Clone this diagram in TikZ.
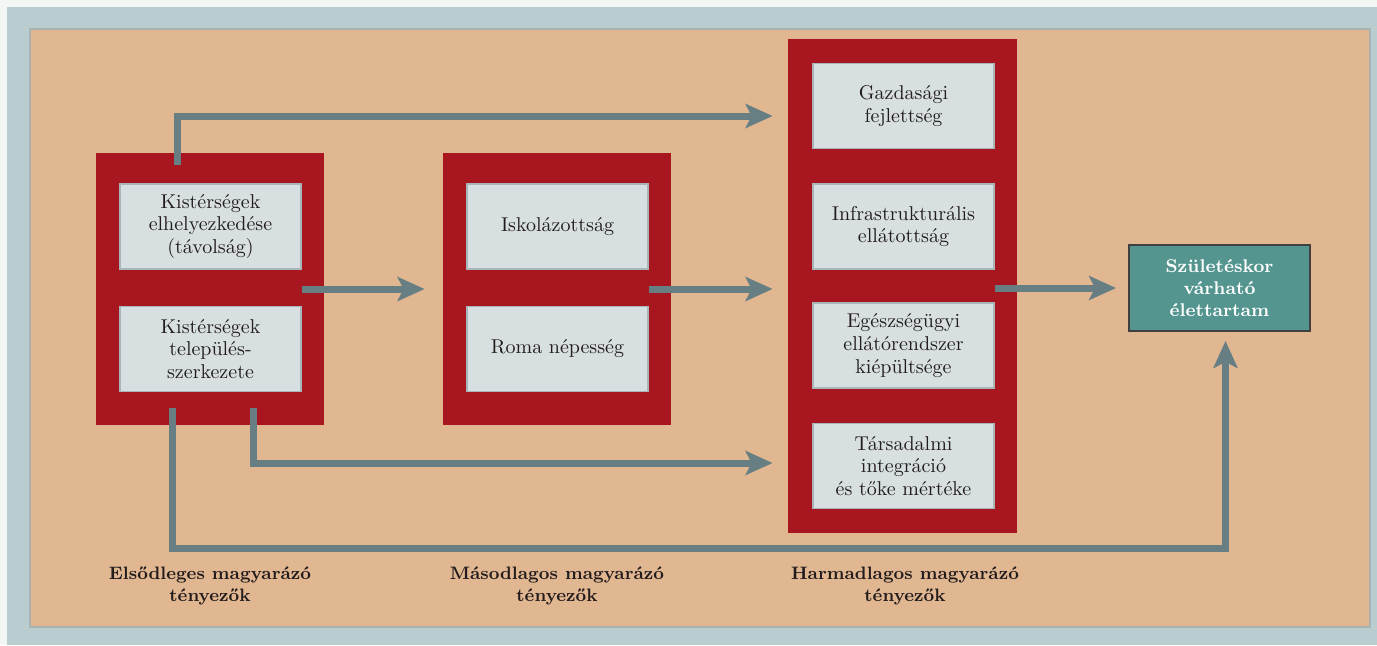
\documentclass[tikz,border=0pt]{standalone}
\usepackage{fontspec}
\usetikzlibrary{arrows.meta,positioning,calc}
\definecolor{pagewhite}{HTML}{F4F5F5}
\definecolor{framegray}{HTML}{B9CCCF}
\definecolor{peach}{HTML}{E1B792}
\definecolor{peachedge}{HTML}{A7B3B0}
\definecolor{factorred}{HTML}{A8171F}
\definecolor{boxgray}{HTML}{D7DFE0}
\definecolor{boxedge}{HTML}{A9B6B8}
\definecolor{flowgray}{HTML}{677F83}
\definecolor{outcometeal}{HTML}{54958F}
\definecolor{inkdark}{HTML}{231C1C}
\tikzset{
  groupbox/.style={fill=factorred, inner sep=0pt},
  factorbox/.style={fill=boxgray, draw=boxedge, line width=0.6pt,
    minimum width=90.5pt, minimum height=42.5pt, align=center,
    inner sep=1pt, font=\fontsize{10}{11.3}\selectfont, text=inkdark},
  outcomebox/.style={fill=outcometeal, draw=black!75, line width=0.9pt,
    minimum width=90.5pt, minimum height=43pt, align=center,
    inner sep=1pt, font=\fontsize{9.2}{11}\selectfont\bfseries, text=white},
  flow/.style={draw=flowgray, line width=3.5pt,
    -{Stealth[length=13.5pt, width=12pt, inset=3pt]}},
  caption/.style={align=center, font=\small\bfseries, text=inkdark,
    inner sep=0pt},
}

\begin{document}
\begin{tikzpicture}[x=0.5pt, y=-0.5pt]

  % background and frame
  \fill[pagewhite] (0,0) rectangle (1377,645);
  \fill[framegray] (7,7) rectangle (1377,645);
  \filldraw[fill=peach, draw=peachedge, line width=0.6pt] (30,29) rectangle (1370,627);
  \useasboundingbox (0,0) rectangle (1377,645);

  % factor groups
  \node[groupbox, minimum width=114pt, minimum height=136pt] (elso) at (210,289) {};
  \node[groupbox, minimum width=114pt, minimum height=136pt] (masod) at (557,289) {};
  \node[groupbox, minimum width=114.5pt, minimum height=247pt] (harmad) at (902.5,286) {};

  \node[factorbox] (kist1) at (210.5,226.5) {Kistérségek\\elhelyezkedése\\(távolság)};
  \node[factorbox] (kist2) at (210.5,349) {Kistérségek\\település-\\szerkezete};
  \node[factorbox] (isk) at (557.5,226.5) {Iskolázottság};
  \node[factorbox] (roma) at (557.5,349) {Roma népesség};
  \node[factorbox] (gazd) at (903.5,106) {Gazdasági\\fejlettség};
  \node[factorbox] (infra) at (903.5,226.5) {Infrastrukturális\\ellátottság};
  \node[factorbox] (eu) at (903.5,345.5) {Egészségügyi\\ellátórendszer\\kiépültsége};
  \node[factorbox] (tars) at (903.5,466) {Társadalmi\\integráció\\és tőke mértéke};

  \node[outcomebox] (szul) at (1219.5,288) {Születéskor\\várható\\élettartam};

  % captions
  \node[caption] (lab1) at (210,586) {Elsődleges magyarázó\\tényezők};
  \node[caption] (lab2) at (557,586) {Másodlagos magyarázó\\tényezők};
  \node[caption] (lab3) at (905,586) {Harmadlagos magyarázó\\tényezők};

  % connections
  \draw[flow, shorten >=7.5pt] ($(elso.north)+(-33,12)$) |- ($(harmad.west|-gazd.west)+(0,10)$);
  \draw[flow, shorten >=9pt] (elso.center -| kist1.east) -- (masod.west);
  \draw[flow, shorten >=7.5pt] (masod.center -| isk.east) -- (harmad.west |- masod.center);
  \draw[flow, shorten >=6pt] (szul.west -| infra.east) -- (szul.west);
  \draw[flow, shorten >=7.5pt] ($(elso.south)+(43,-17)$) |- ($(harmad.west |- tars.west)+(0,-3)$);
  \draw[flow, shorten >=4.5pt] ($(elso.south)+(-38,-17)$) -- ++(0,140) -| ($(szul.south)+(6,0)$);

\end{tikzpicture}
\end{document}
